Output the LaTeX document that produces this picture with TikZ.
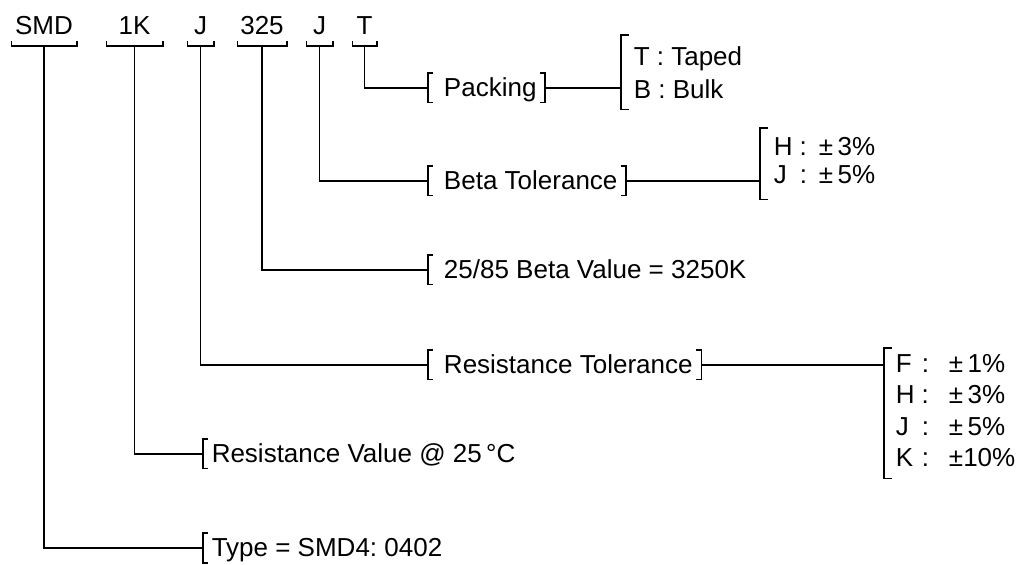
\documentclass[tikz,border=0pt]{standalone}
\usepackage{fontspec}
\setmainfont{Liberation Sans}
\frenchspacing

\begin{document}
\begin{tikzpicture}[x=0.5pt, y=-0.5pt, line width=0.75pt,
    code/.style={font=\fontsize{13}{15}\selectfont, inner sep=0pt, anchor=base},
    lbl/.style={font=\fontsize{13}{15}\selectfont, inner xsep=4pt, inner ysep=1.5pt, text height=10pt, text depth=1pt, anchor=west},
    opt/.style={inner ysep=0pt, anchor=north west, align=left}]

\useasboundingbox (0,0) rectangle (1021,565);

% part number fields
\node[code, minimum width=32pt] (smd) at (44,35) {SMD};
\node[code, minimum width=27.5pt] (rk) at (134.5,35) {1K};
\node[code, minimum width=12.5pt] (rtol) at (200.5,35) {J};
\node[code, minimum width=24pt] (bval) at (262,35) {325};
\node[code, minimum width=12.5pt] (btol) at (319.5,35) {J};
\node[code, minimum width=11.5pt] (pack) at (364.5,35) {T};

% meanings
\node[lbl] (packing) at (428,88) {\ Packing};
\node[lbl] (betatol) at (428,181) {\ Beta Tolerance};
\node[lbl] (betaval) at (428,270) {\ 25/85 Beta Value = 3250K};
\node[lbl] (restol) at (428,365) {\ Resistance Tolerance};
\node[lbl] (resval) at (203,454) {Resistance Value @ 25\,°C};
\node[lbl] (type) at (203,548) {Type = SMD4: 0402};

% option lists
\node[opt, inner xsep=6pt, minimum height=36.5pt, font=\fontsize{13}{16.5}\selectfont] (packopt) at (621,35) {T : Taped\\B : Bulk};
\node[opt, inner xsep=6.5pt, minimum height=35pt, font=\fontsize{13}{14}\selectfont] (betaopt) at (760,128)
  {\begin{tabular}{@{}l@{\ :\hspace{6pt}}l@{}}H & ±\,3\%\\J & ±\,5\%\end{tabular}};
\node[opt, inner xsep=5.5pt, minimum height=64.5pt, font=\fontsize{13}{15.7}\selectfont] (resopt) at (884,348)
  {\begin{tabular}{@{}l@{\ :\hspace{10pt}}l@{}}F & ±\,1\%\\H & ±\,3\%\\J & ±\,5\%\\K & ±10\%\end{tabular}};

% braces and brackets
\foreach \c in {smd,rk,rtol,bval,btol,pack}
  \draw ([yshift=-3pt]\c.base west) -- ([yshift=-5.5pt]\c.base west) -- ([yshift=-5.5pt]\c.base east) -- ([yshift=-3pt]\c.base east);
\foreach \n in {packing,betatol,betaval,restol,resval,type}
  \draw ([xshift=2.5pt]\n.north west) -- (\n.north west) -- (\n.south west) -- ([xshift=2.5pt]\n.south west);
\foreach \n in {packing,betatol,restol}
  \draw ([xshift=-2.5pt]\n.north east) -- (\n.north east) -- (\n.south east) -- ([xshift=-2.5pt]\n.south east);
\foreach \n in {packopt,betaopt,resopt}
  \draw ([xshift=4pt]\n.north west) -- (\n.north west) -- (\n.south west) -- ([xshift=4pt]\n.south west);

% leaders
\draw ([yshift=-5.5pt]pack.base) |- (packing.west);
\draw ([yshift=-5.5pt]btol.base) |- (betatol.west);
\draw ([yshift=-5.5pt]bval.base) |- (betaval.west);
\draw ([yshift=-5.5pt]rtol.base) |- (restol.west);
\draw ([yshift=-5.5pt]rk.base) |- (resval.west);
\draw ([yshift=-5.5pt]smd.base) |- (type.west);
\draw (packing.east) -- (packing.east -| packopt.west);
\draw (betatol.east) -- (betatol.east -| betaopt.west);
\draw (restol.east) -- (restol.east -| resopt.west);
\end{tikzpicture}
\end{document}
